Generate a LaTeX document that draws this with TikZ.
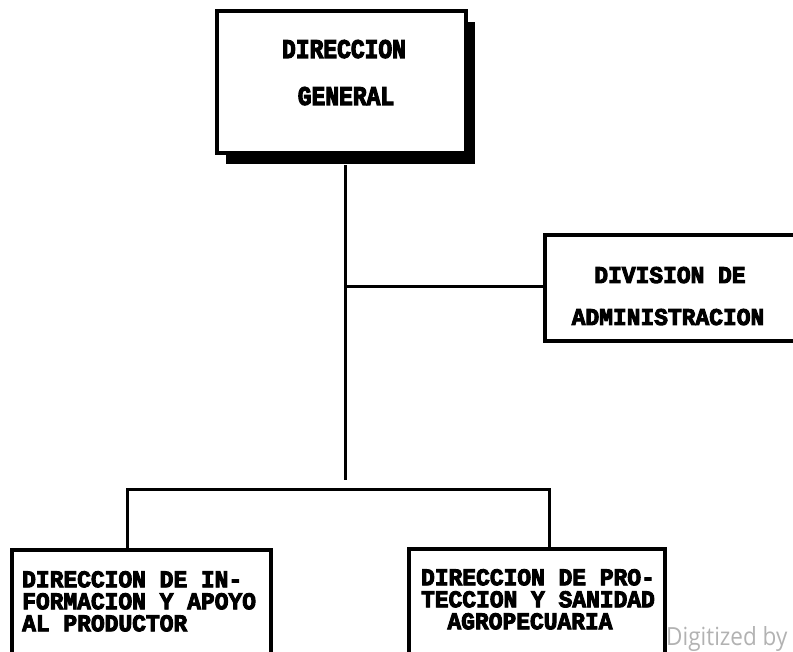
\documentclass[tikz,border=0pt]{standalone}
\usepackage{fontspec}
\usetikzlibrary{shadows}
\newfontfamily\dmfont[FakeStretch=0.85,FakeBold=4]{Liberation Mono Bold}
\newfontfamily\dmfontb[FakeStretch=0.955,FakeBold=4]{Liberation Mono Bold}
\newfontfamily\wmfont[FakeStretch=0.9]{Open Sans}
\tikzset{
  orgbox/.style={draw=black, fill=white, line width=4pt, inner sep=0pt, rectangle},
  shadowbox/.style={orgbox, drop shadow={shadow xshift=9pt, shadow yshift=-11pt, fill=black, opacity=1}},
  bigtxt/.style={inner sep=0pt, anchor=base, font=\dmfont\fontsize{27}{27}\selectfont},
  smalltxt/.style={inner sep=0pt, font=\dmfontb\fontsize{24}{22}\selectfont},
  link/.style={line width=3pt, line cap=rect},
  wm/.style={inner sep=0pt, anchor=base west, text=black!30, font=\wmfont\fontsize{25}{25}\selectfont}
}
\begin{document}
\begin{tikzpicture}[x=1pt,y=-1pt]
\useasboundingbox (0,0) rectangle (793,652);
% boxes
\node[shadowbox, minimum width=249pt, minimum height=142pt] (dg) at (341.5,82) {};
\node[orgbox, minimum width=285pt, minimum height=106pt] (adm) at (687.5,288) {};
\node[orgbox, minimum width=259pt, minimum height=150pt] (dip) at (141.5,625) {};
\node[orgbox, minimum width=256pt, minimum height=151pt] (dps) at (537,624.5) {};
% texts
\node[bigtxt] (dg1) at (344,58) {DIRECCION};
\node[bigtxt] (dg2) at (346,105) {GENERAL};
\node[smalltxt, anchor=base] (adm1) at (670,283) {DIVISION DE};
\node[smalltxt, anchor=base] (adm2) at (668,325) {ADMINISTRACION};
\node[smalltxt, anchor=north west, align=left] (diptxt) at (22,571)
  {DIRECCION DE IN-\\FORMACION Y APOYO\\AL PRODUCTOR};
\node[smalltxt, anchor=north, align=center] (dpstxt) at (538,569)
  {DIRECCION DE PRO-\\TECCION Y SANIDAD\\AGROPECUARIA\hspace*{16pt}};
% connectors
\coordinate (trunkend) at (345,478);
\coordinate (branch) at (345,287);
\coordinate (busL) at (127,489);
\coordinate (busR) at (549,489);
\draw[link] (trunkend |- dg.south) ++(0,12) -- (trunkend);
\draw[link] (branch) -- (branch -| adm.west);
\draw[link] (busL |- dip.north) -- (busL) -- (busR) -- (busR |- dps.north);
% watermark
\node[wm] (wmk) at (666,645) {Digitized by};
\end{tikzpicture}
\end{document}
